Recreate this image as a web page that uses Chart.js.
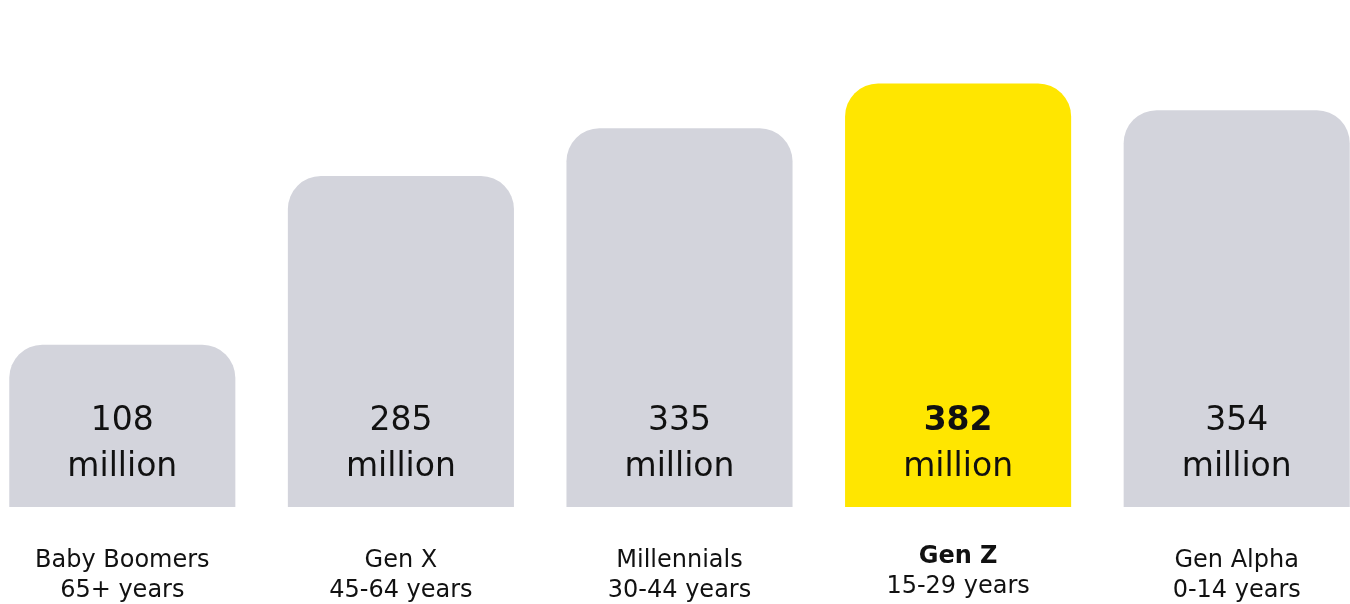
<!DOCTYPE html>
<html>
<head>
<meta charset="utf-8">
<script src="https://cdn.jsdelivr.net/npm/chart.js@4"></script>
<style>
  html, body { margin: 0; padding: 0; background: #fff; overflow: hidden; }
  #wrap { position: absolute; left: -17px; top: 0; width: 1393px; height: 604px; }
</style>
</head>
<body>
<div id="wrap"><canvas id="genChart"></canvas></div>
<script>
const generations = ['Baby Boomers', 'Gen X', 'Millennials', 'Gen Z', 'Gen Alpha'];
const ageRanges = ['65+ years', '45-64 years', '30-44 years', '15-29 years', '0-14 years'];
const populations = [108, 285, 335, 382, 354];
const unitLabel = 'million';
const highlightIndex = 3;

// truncated value axis, bars are drawn up from its floor
const Y_MIN = -62;
const Y_MAX = 458;

const GREY = '#d3d4dc';
const YELLOW = '#ffe600';
const INK = '#111111';
const FONT = "'DejaVu Sans', sans-serif";

// value + unit near the foot of each bar, generation + age range under it
const barLabels = {
    id: 'barLabels',
    afterDatasetsDraw(chart) {
        const { ctx, chartArea } = chart;
        const xScale = chart.scales.x;
        const meta = chart.getDatasetMeta(0);
        const bottom = chartArea.bottom;
        ctx.save();
        ctx.fillStyle = INK;
        ctx.textAlign = 'center';
        ctx.textBaseline = 'alphabetic';
        meta.data.forEach((bar, i) => {
            const hi = i === highlightIndex;
            ctx.font = (hi ? 'bold ' : '') + '33px ' + FONT;
            ctx.fillText(String(populations[i]), bar.x, bottom - 77);
            ctx.font = '33px ' + FONT;
            ctx.fillText(unitLabel, bar.x, bottom - 31);

            const x = xScale.getPixelForValue(i);
            const lift = hi ? 4 : 0;
            ctx.font = (hi ? 'bold ' : '') + '24px ' + FONT;
            ctx.fillText(generations[i], x, bottom + 60 - lift);
            ctx.font = '24px ' + FONT;
            ctx.fillText(ageRanges[i], x, bottom + 90 - lift);
        });
        ctx.restore();
    }
};

const ctx = document.getElementById('genChart').getContext('2d');
new Chart(ctx, {
    type: 'bar',
    data: {
        labels: generations,
        datasets: [{
            data: populations,
            base: Y_MIN,
            backgroundColor: populations.map((_, i) => i === highlightIndex ? YELLOW : GREY),
            borderWidth: 0,
            borderRadius: { topLeft: 33, topRight: 33, bottomLeft: 0, bottomRight: 0 },
            borderSkipped: 'bottom',
            categoryPercentage: 0.8115,
            barPercentage: 1
        }]
    },
    options: {
        responsive: true,
        maintainAspectRatio: false,
        animation: false,
        layout: { padding: { top: 11, left: 0, right: 0, bottom: 97 } },
        scales: {
            y: { display: false, min: Y_MIN, max: Y_MAX },
            x: { display: false }
        },
        plugins: {
            legend: { display: false },
            tooltip: { enabled: false }
        }
    },
    plugins: [barLabels]
});
</script>
</body>
</html>
